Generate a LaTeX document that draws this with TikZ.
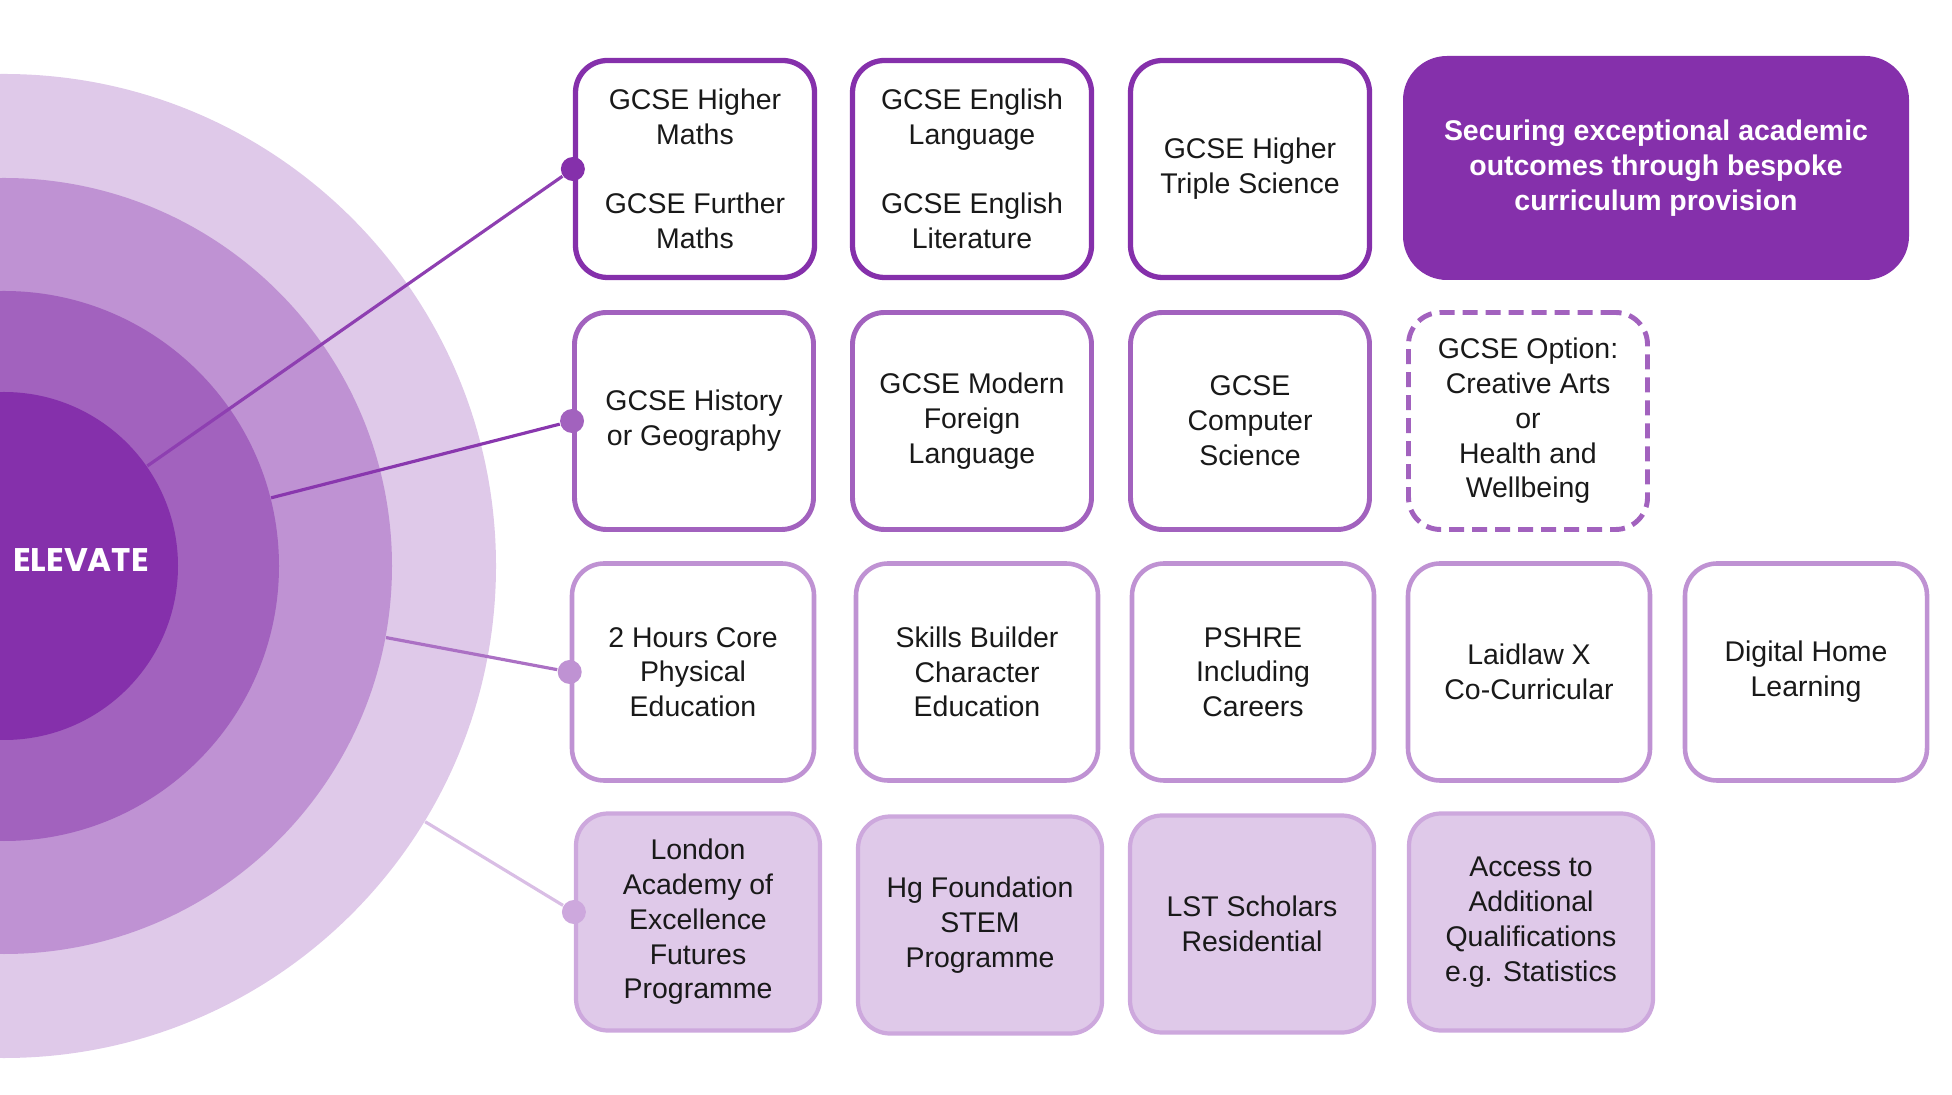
\documentclass[tikz,border=0pt]{standalone}
\usepackage{fontspec}
\setmainfont{Liberation Sans}
\newfontfamily\elevatefont{Poppins}
\definecolor{pdark}{HTML}{8530AB}
\definecolor{pmid}{HTML}{A262BE}
\definecolor{plight}{HTML}{BF92D3}
\definecolor{ppale}{HTML}{DFC9E9}
\definecolor{pedge}{HTML}{CDA8DD}

\begin{document}
\begin{tikzpicture}[
      ring/.style={circle, inner sep=0pt, draw=none},
      card/.style={draw, rounded corners=3.2mm, minimum width=23.9mm, minimum height=21.7mm, align=center, text=black!90, font=\fontsize{8.1}{9.9}\selectfont},
      coresubj/.style={card, draw=pdark, line width=1.5pt},
      gcsesubj/.style={card, draw=pmid, line width=1.4pt},
      optbox/.style={gcsesubj, dashed, dash pattern=on 1.5mm off 0.8mm},
      enrich/.style={card, draw=plight, line width=1.3pt, minimum width=24.2mm},
      beyond/.style={card, draw=pedge, fill=ppale, line width=1.2pt, minimum width=24.4mm},
      headline/.style={fill=pdark, rounded corners=4.4mm, minimum width=50.6mm, minimum height=22.4mm, align=center, text=white, font=\fontsize{8.1}{9.9}\selectfont\bfseries},
      dot/.style={circle, inner sep=0pt, minimum size=2.4mm},
      link/.style={line width=0.9pt}
    ]

    \useasboundingbox (0,0) rectangle (195.2mm,109.4mm);

    \node[ring, fill=ppale, minimum size=98.4mm] (ring1) at (0.4mm, 52.8mm) {};
    \node[ring, fill=plight, minimum size=77.6mm] (ring2) at (0.4mm, 52.8mm) {};
    \node[ring, fill=pmid, minimum size=55mm] (ring3) at (0.4mm, 52.8mm) {};
    \node[ring, fill=pdark, minimum size=34.8mm] (ring4) at (0.4mm, 52.8mm) {};
    \node[text=white, font=\elevatefont\bfseries\fontsize{9.3}{10}\selectfont] (elevate) at (8.1mm, 53.4mm) {ELEVATE};

    \node[coresubj] (maths) at (69.5mm, 92.5mm) {GCSE Higher\\Maths\\[9.9pt]GCSE Further\\Maths};
    \node[coresubj] (english) at (97.2mm, 92.5mm) {GCSE English\\Language\\[9.9pt]GCSE English\\Literature};
    \node[coresubj] (science) at (125.0mm, 92.5mm) {GCSE Higher\\Triple Science};
    \node[headline] (aim) at (165.6mm, 92.6mm) {Securing exceptional academic\\outcomes through bespoke\\curriculum provision};

    \node[gcsesubj] (humanity) at (69.4mm, 67.3mm) {GCSE History\\or Geography};
    \node[gcsesubj] (mfl) at (97.2mm, 67.3mm) {GCSE Modern\\Foreign\\Language};
    \node[gcsesubj] (compsci) at (125.0mm, 67.3mm) {GCSE\\Computer\\Science};
    \node[optbox] (choice) at (152.8mm, 67.3mm) {GCSE Option:\\Creative Arts\\or\\Health and\\Wellbeing};

    \node[enrich] (pe) at (69.3mm, 42.2mm) {2 Hours Core\\Physical\\Education};
    \node[enrich] (skills) at (97.7mm, 42.2mm) {Skills Builder\\Character\\Education};
    \node[enrich] (pshre) at (125.3mm, 42.2mm) {PSHRE\\Including\\Careers};
    \node[enrich] (laidlaw) at (152.9mm, 42.2mm) {Laidlaw X\\Co-Curricular};
    \node[enrich] (homework) at (180.6mm, 42.2mm) {Digital Home\\Learning};

    \node[beyond] (lae) at (69.8mm, 17.2mm) {London\\Academy of\\Excellence\\Futures\\Programme};
    \node[beyond] (stem) at (98.0mm, 16.9mm) {Hg Foundation\\STEM\\Programme};
    \node[beyond] (lst) at (125.2mm, 17.0mm) {LST Scholars\\Residential};
    \node[beyond] (quals) at (153.1mm, 17.2mm) {Access to\\Additional\\Qualifications\\e.g. Statistics};

    \node[dot, fill=pdark] (dot1) at (maths.west) {};
    \node[dot, fill=pmid] (dot2) at (humanity.west) {};
    \node[dot, fill=plight] (dot3) at (pe.west) {};
    \node[dot, fill=pedge] (dot4) at ([yshift=1mm]lae.west) {};

    \draw[link, draw=pdark!70!pmid] (ring4) -- (dot1);
    \draw[link, draw=pdark!85!pmid] (ring3) -- (dot2);
    \draw[link, draw=pmid!70!plight] (ring2) -- (dot3);
    \draw[link, draw=ppale!80!plight] (ring1) -- (dot4);

  \end{tikzpicture}
\end{document}
